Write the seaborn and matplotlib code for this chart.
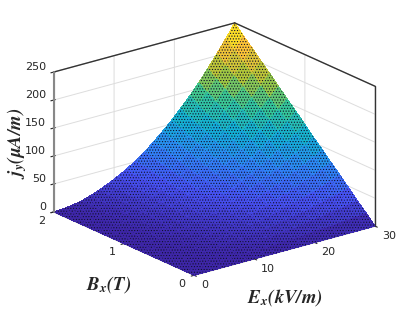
import numpy as np
import matplotlib
matplotlib.use("Agg")
import matplotlib.pyplot as plt
import seaborn as sns

ex_values = [0, 1.5, 3, 4.5, 6, 7.5, 9, 10.5, 12, 13.5, 15, 16.5, 18, 19.5, 21, 22.5, 24, 25.5, 27, 28.5, 30]
bx_values = [0, 0.125, 0.25, 0.375, 0.5, 0.625, 0.75, 0.875, 1, 1.125, 1.25, 1.375, 1.5, 1.625, 1.75, 1.875, 2]
# jy, one row per Bx value
jy_rows = [
    [0, 0, 0, 0, 0, 0, 0, 0, 0, 0, 0, 0, 0, 0, 0, 0, 0, 0, 0, 0, 0],
    [0, 0, 0, 0, 1, 1, 1, 2, 3, 3, 4, 5, 6, 7, 8, 9, 10, 11, 13, 14, 16],
    [0, 0, 0, 1, 1, 2, 3, 4, 5, 6, 8, 10, 11, 13, 15, 18, 20, 23, 25, 28, 31],
    [0, 0, 0, 1, 2, 3, 4, 6, 8, 10, 12, 14, 17, 20, 23, 26, 30, 34, 38, 42, 47],
    [0, 0, 1, 2, 3, 4, 6, 8, 10, 13, 16, 19, 23, 27, 31, 35, 40, 45, 51, 57, 63],
    [0, 0, 1, 2, 3, 5, 7, 10, 13, 16, 20, 24, 28, 33, 38, 44, 50, 57, 63, 71, 78],
    [0, 0, 1, 2, 4, 6, 9, 12, 15, 19, 24, 29, 34, 40, 46, 53, 60, 68, 76, 85, 94],
    [0, 0, 1, 3, 5, 7, 10, 14, 18, 22, 28, 33, 40, 47, 54, 62, 70, 79, 89, 99, 109],
    [0, 0, 1, 3, 6, 8, 12, 16, 21, 26, 32, 38, 46, 53, 62, 71, 80, 91, 102, 113, 125],
    [0, 0, 1, 4, 6, 9, 13, 18, 23, 29, 35, 43, 51, 60, 69, 79, 90, 102, 114, 127, 141],
    [0, 0, 2, 4, 7, 11, 15, 20, 26, 32, 39, 48, 57, 67, 77, 88, 100, 113, 127, 141, 156],
    [0, 0, 2, 4, 8, 12, 16, 22, 28, 35, 43, 53, 63, 73, 85, 97, 110, 124, 140, 155, 172],
    [0, 0, 2, 5, 8, 13, 18, 24, 31, 38, 47, 57, 68, 80, 92, 106, 120, 136, 152, 170, 188],
    [0, 0, 2, 5, 9, 14, 19, 26, 33, 42, 51, 62, 74, 86, 100, 115, 130, 147, 165, 184, 203],
    [0, 1, 2, 6, 10, 15, 21, 28, 36, 45, 55, 67, 80, 93, 108, 123, 140, 158, 178, 198, 219],
    [0, 1, 2, 6, 10, 16, 22, 30, 38, 48, 59, 72, 85, 100, 115, 132, 150, 170, 190, 212, 234],
    [0, 1, 3, 6, 11, 17, 24, 32, 41, 51, 63, 76, 91, 106, 123, 141, 160, 181, 203, 226, 250],
]
ex_ticks = [0, 10, 20, 30]
bx_ticks = [0, 1, 2]
jy_ticks = [0, 50, 100, 150, 200, 250]

parula = ["#3e26a8", "#4752f4", "#2e87f7", "#12b1d6", "#37c897", "#abc739", "#fec338", "#f9fb15"]

sns.set_style("white")
plt.rcParams["mathtext.fontset"] = "stix"
plt.rcParams["hatch.linewidth"] = 0.5

fig = plt.figure(figsize=(4.15, 3.09), dpi=100)
ax = fig.add_axes([(209 - 200) / 415, (154.5 - 200) / 309, 400 / 415, 400 / 309], projection="3d", proj_type="ortho")
ax.view_init(elev=20.5, azim=-127.8)
ax.set_box_aspect((230, 230, 150), zoom=0.8655)

X, Y = np.meshgrid(ex_values, bx_values)
Z = np.array(jy_rows)
cmap = sns.blend_palette(parula, as_cmap=True)
surf = ax.plot_surface(X, Y, Z, cmap=cmap, vmin=0, vmax=250, rstride=1, cstride=1,
                       linewidth=0, antialiased=False, edgecolor="#10102a", hatch="......")

xmax, ymax, zmax = ex_ticks[-1], bx_ticks[-1], jy_ticks[-1]
# box edges on top of the grid
ax.plot([0, xmax], [ymax, ymax], [zmax, zmax], color="#333333", lw=1)
ax.plot([xmax, xmax], [ymax, 0], [zmax, zmax], color="#333333", lw=1)
ax.plot([xmax, xmax], [0, 0], [0, zmax], color="#333333", lw=1)
ax.plot([0, 0], [ymax, ymax], [0, zmax], color="#888888", lw=1.5)

ax.set_xlim(0, xmax)
ax.set_ylim(0, ymax)
ax.set_zlim(0, zmax)
ax.set_xticks(ex_ticks)
ax.set_yticks(bx_ticks)
ax.set_zticks(jy_ticks)
ax.tick_params(labelsize=8, colors="#262626", pad=-4.5)
ax.tick_params(axis="x", pad=-0.8)
ax.tick_params(axis="y", pad=-1)
plt.setp(ax.get_xticklabels(), ha="left", va="center")
plt.setp(ax.get_yticklabels(), ha="right", va="center")
plt.setp(ax.get_zticklabels(), ha="right", va="bottom")

for axis in (ax.xaxis, ax.yaxis, ax.zaxis):
    axis.set_pane_color((1, 1, 1, 1))
    axis.pane.set_edgecolor("#dddddd")
    axis.pane.set_linewidth(0.7)
    axis._axinfo["grid"].update(color="#dddddd", linewidth=0.7)
    axis.line.set_color("#888888")

fig.text(285 / 415, 1 - 298 / 309, r"$\mathbfit{E_x(kV/m)}$", ha="center", va="center", fontsize=13.5)
fig.text(109 / 415, 1 - 285 / 309, r"$\mathbfit{B_x(T)}$", ha="center", va="center", fontsize=13.5)
fig.text(17 / 415, 1 - 143 / 309, r"$\mathbfit{j_y(\mu A/m)}$", ha="center", va="center", rotation=90, fontsize=13.5)

fig.savefig("out.png", dpi=100)
